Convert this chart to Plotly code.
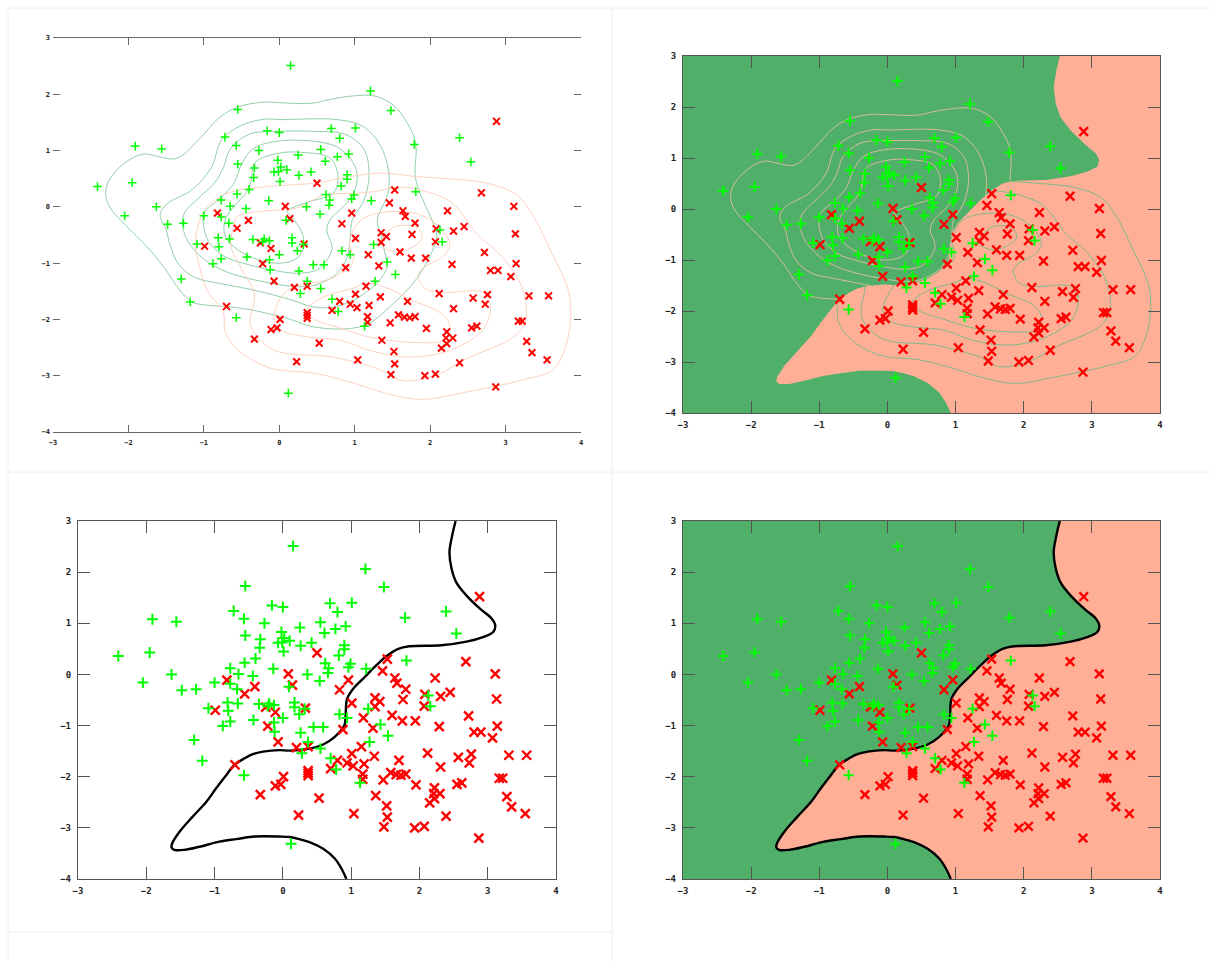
import plotly.graph_objects as go

W, H = 1213, 961
tick_vals_x = [-3, -2, -1, 0, 1, 2, 3, 4]
tick_vals_y = [-4, -3, -2, -1, 0, 1, 2, 3]

green_points = [(0.15,2.51),(1.21,2.06),(1.48,1.71),(-0.55,1.73),(1.01,1.40),(0.69,1.39),(0.80,1.22),(2.39,1.23),(1.79,1.11),(0,1.32),(-0.16,1.35),(-0.72,1.24),(-0.57,1.09),(-1.91,1.08),(-1.56,1.03),(-0.27,1.0),(0.55,1.02),(0.25,0.92),(0.92,0.94),(0.77,0.89),(0.61,0.81),(2.54,0.80),(-0.02,0.83),(-0.55,0.76),(-0.33,0.69),(0.42,0.62),(0.26,0.56),(0.90,0.57),(0.90,0.49),(0.10,0.66),(0.02,0.71),(-0.01,0.63),(-0.07,0.62),(-0.34,0.52),(0.01,0.45),(0.82,0.37),(-2.41,0.36),(-1.95,0.43),(-0.40,0.31),(-0.56,0.23),(1.81,0.27),(0.62,0.22),(0.67,0.12),(0.99,0.21),(0.96,0.14),(1.22,0.11),(0.66,0.03),(-0.77,0.12),(-0.14,0.11),(-1.63,0),(-0.65,0.01),(-0.44,-0.03),(0.36,0),(-2.05,-0.16),(-1.0,-0.16),(-0.77,-0.18),(0.54,-0.13),(0.09,-0.24),(-1.48,-0.31),(-1.27,-0.29),(-0.67,-0.29),(-0.81,-0.55),(-0.66,-0.57),(-0.35,-0.58),(-0.2,-0.57),(-0.13,-0.6),(-0.22,-0.62),(0.17,-0.55),(0.17,-0.64),(-1.09,-0.66),(-0.8,-0.71),(0.32,-0.67),(0.24,-0.78),(0,-0.85),(-0.43,-0.89),(-0.77,-0.92),(-0.13,-0.94),(-0.88,-1.01),(0.45,-1.03),(0.59,-1.03),(-0.12,-1.12),(0.26,-1.14),(-1.3,-1.28),(0.37,-1.32),(-1.18,-1.69),(0.28,-1.54),(0.55,-1.45),(-0.57,-1.97),(0.12,-3.31),(2.13,-0.41),(2.16,-0.62),(1.25,-0.67),(0.83,-0.78),(0.94,-0.85),(1.43,-0.98),(1.54,-1.2),(1.27,-1.32),(0.70,-1.64),(0.78,-1.86),(1.13,-2.12)]

red_points = [(0.50,0.42),(2.88,1.52),(1.53,0.30),(2.68,0.25),(1.46,0.07),(1.64,-0.07),(1.67,-0.17),(1.80,-0.29),(2.23,-0.07),(3.11,0.01),(0.08,0.01),(0.96,-0.11),(0.14,-0.21),(0.83,-0.30),(-0.82,-0.11),(-0.41,-0.24),(-0.56,-0.38),(-0.99,-0.70),(-0.25,-0.64),(-0.11,-0.74),(0.33,-0.66),(-0.22,-1.01),(-0.07,-1.32),(0.2,-1.43),(0.37,-1.41),(-0.7,-1.77),(0.01,-2.0),(-0.11,-2.18),(-0.03,-2.15),(-0.33,-2.35),(0.37,-1.88),(0.37,-1.93),(0.37,-1.98),(0.23,-2.75),(0.53,-2.42),(1.01,-0.56),(1.35,-0.46),(1.42,-0.53),(1.35,-0.63),(1.76,-0.49),(2.08,-0.39),(2.07,-0.62),(2.31,-0.43),(2.45,-0.35),(2.72,-0.81),(1.18,-0.85),(1.6,-0.8),(1.75,-0.91),(1.94,-0.91),(1.32,-1.05),(2.29,-1.02),(3.14,-1.01),(3.13,-0.48),(0.88,-1.08),(2.8,-1.13),(2.9,-1.13),(3.07,-1.24),(1.15,-1.41),(1.01,-1.55),(1.34,-1.6),(2.12,-1.54),(2.57,-1.62),(2.76,-1.56),(2.73,-1.73),(3.31,-1.58),(3.57,-1.58),(0.8,-1.68),(0.94,-1.73),(1.03,-1.79),(1.19,-1.75),(0.70,-1.84),(1.7,-1.68),(2.31,-1.81),(1.17,-1.95),(1.17,-2.05),(1.47,-2.06),(1.58,-1.92),(1.66,-1.96),(1.73,-1.97),(1.8,-1.95),(1.95,-2.16),(2.55,-2.15),(2.62,-2.12),(3.17,-2.03),(3.22,-2.03),(2.22,-2.22),(2.21,-2.33),(2.3,-2.33),(2.22,-2.43),(2.15,-2.51),(3.28,-2.39),(3.35,-2.59),(1.36,-2.37),(1.52,-2.57),(3.55,-2.72),(2.39,-2.77),(1.53,-2.79),(1.04,-2.72),(1.48,-2.98),(1.93,-3.0),(2.07,-2.97),(2.87,-3.2)]

boundary = [(2.53,3),(2.48,2.72),(2.44,2.39),(2.47,2.07),(2.54,1.80),(2.69,1.54),(2.89,1.28),(3.06,1.09),(3.11,0.96),(3.08,0.83),(2.93,0.73),(2.69,0.64),(2.32,0.57),(1.85,0.55),(1.69,0.50),(1.52,0.36),(1.37,0.18),(1.20,-0.05),(1.03,-0.28),(0.94,-0.48),(0.92,-0.77),(0.90,-1.0),(0.76,-1.22),(0.59,-1.37),(0.39,-1.45),(0.10,-1.49),(-0.05,-1.48),(-0.29,-1.51),(-0.44,-1.56),(-0.56,-1.64),(-0.71,-1.77),(-0.83,-1.97),(-0.98,-2.23),(-1.12,-2.49),(-1.32,-2.78),(-1.51,-3.07),(-1.62,-3.30),(-1.63,-3.38),(-1.59,-3.43),(-1.44,-3.43),(-1.22,-3.37),(-0.93,-3.27),(-0.68,-3.22),(-0.41,-3.17),(-0.05,-3.17),(0.10,-3.18),(0.24,-3.22),(0.39,-3.28),(0.59,-3.41),(0.76,-3.60),(0.86,-3.80),(0.93,-4.0)]
green_region_corners = [(-3,-4),(-3,3)]

g1 = [(-0.22,1.86),(-0.56,1.77),(-0.80,1.58),(-1.05,1.22),(-1.29,0.91),(-1.41,0.85),(-1.59,0.89),(-1.78,0.94),(-1.93,0.88),(-2.12,0.70),(-2.27,0.44),(-2.30,0.21),(-2.24,-0.02),(-2.02,-0.35),(-1.78,-0.67),(-1.53,-1.07),(-1.33,-1.46),(-1.16,-1.69),(-0.94,-1.75),(-0.69,-1.77),(-0.3,-1.85),(0.15,-2.0),(0.41,-2.12),(0.81,-2.17),(1.16,-2.09),(1.47,-1.77),(1.83,-1.26),(2.09,-0.53),(2.05,-0.32),(1.85,0.30),(1.80,0.57),(1.81,1.12),(1.70,1.48),(1.51,1.81),(1.26,1.97),(0.97,1.97),(0.68,1.91),(0.43,1.84),(0,1.85),(-0.22,1.86)]
g2 = [(-0.17,1.56),(-0.46,1.47),(-0.76,1.20),(-0.90,0.70),(-1.15,0.31),(-1.49,0.05),(-1.58,-0.15),(-1.50,-0.40),(-1.45,-0.67),(-1.33,-1.03),(-1.11,-1.26),(-0.79,-1.36),(-0.30,-1.49),(0.15,-1.65),(0.46,-1.78),(0.72,-1.78),(0.99,-1.65),(1.30,-1.35),(1.43,-1.06),(1.41,-0.88),(1.34,-0.47),(1.30,-0.23),(1.44,0.24),(1.45,0.63),(1.34,1.09),(1.12,1.42),(0.77,1.55),(0,1.55),(-0.17,1.56)]
g3 = [(-0.06,1.34),(-0.40,1.29),(-0.65,1.03),(-0.74,0.70),(-0.85,0.44),(-1.05,0.18),(-1.27,-0.15),(-1.24,-0.54),(-1.0,-0.93),(-0.69,-1.16),(-0.21,-1.33),(0.28,-1.42),(0.50,-1.38),(0.75,-1.2),(0.90,-0.9),(0.94,-0.54),(0.97,-0.22),(1.12,0.11),(1.19,0.57),(1.12,1.03),(0.87,1.29),(0.48,1.34),(-0.06,1.34)]
g4 = [(-0.06,1.16),(-0.35,1.03),(-0.50,0.76),(-0.60,0.42),(-0.76,0.18),(-1.0,-0.12),(-1.0,-0.35),(-0.94,-0.61),(-0.74,-0.87),(-0.40,-1.03),(-0.06,-1.13),(0.23,-1.18),(0.48,-1.13),(0.60,-1.0),(0.70,-0.74),(0.63,-0.41),(0.68,-0.22),(0.92,0.11),(1.03,0.44),(0.99,0.76),(0.77,1.06),(0.43,1.17),(-0.06,1.16)]
g5 = [(-0.02,0.95),(-0.32,0.79),(-0.37,0.50),(-0.41,0.31),(-0.71,-0.21),(-0.71,-0.54),(-0.41,-0.87),(0.02,-1.0),(0.27,-0.87),(0.32,-0.54),(0.17,-0.18),(0.10,-0.08),(0.37,0.08),(0.71,0.24),(0.78,0.50),(0.68,0.86),(0.28,0.97),(-0.02,0.95)]
green_contours = [g1, g2, g3, g4, g5]

r1 = [(1.79,0.54),(2.13,0.51),(2.75,0.42),(3.15,0.21),(3.37,-0.17),(3.59,-0.76),(3.85,-1.59),(3.81,-2.42),(3.63,-2.89),(3.24,-3.07),(2.44,-3.30),(1.87,-3.42),(1.38,-3.30),(1.03,-3.15),(0.48,-2.96),(-0.13,-2.86),(-0.55,-2.54),(-0.72,-2.21),(-0.74,-1.88),(-0.95,-1.5),(-1.05,-1.1),(-1.11,-0.70),(-1.08,-0.35),(-0.97,-0.02),(-0.69,0.24),(-0.16,0.36),(0.15,0.39),(0.53,0.43),(0.81,0.51),(1.36,0.60),(1.79,0.54)]
r2 = [(1.84,0.31),(2.28,0.08),(2.62,-0.48),(2.92,-0.84),(3.16,-1.26),(3.26,-1.65),(3.26,-2.05),(3.11,-2.31),(2.48,-2.70),(2.08,-2.99),(1.64,-3.09),(1.35,-2.90),(0.71,-2.67),(-0.08,-2.54),(-0.38,-2.11),(-0.33,-1.56),(-0.50,-1.1),(-0.64,-0.70),(-0.60,-0.32),(-0.56,-0.17),(-0.25,-0.08),(0.24,-0.02),(0.59,0.21),(0.99,0.24),(1.25,0.27),(1.60,0.35),(1.84,0.31)]
r3 = [(1.84,-1.23),(1.89,-1.10),(2.18,-0.87),(2.26,-0.64),(1.99,-0.22),(1.59,-0.08),(1.10,-0.22),(0.93,-0.61),(0.98,-0.97),(0.71,-1.26),(0.10,-1.49),(-0.07,-1.95),(0.02,-2.18),(0.37,-2.31),(0.81,-2.37),(1.25,-2.57),(1.74,-2.67),(2.28,-2.54),(2.70,-2.18),(2.80,-1.78),(2.70,-1.52),(2.18,-1.52),(1.94,-1.46),(1.84,-1.23)]
r4 = [(0.37,-1.82),(0.61,-1.59),(0.97,-1.45),(1.16,-1.36),(1.46,-1.46),(1.74,-1.65),(2.13,-1.88),(2.26,-2.11),(2.18,-2.37),(1.84,-2.41),(1.25,-2.33),(0.8,-2.15),(0.45,-1.98),(0.37,-1.82)]
r5 = [(1.35,-0.61),(1.54,-0.35),(1.84,-0.38),(1.89,-0.58),(1.59,-0.80),(1.37,-0.71),(1.35,-0.61)]
red_contours = [r1, r2, r3, r4, r5]

GREEN_BG = "#50b06a"
SALMON_BG = "#ffaf96"
AXIS = "#555555"
region = boundary + green_region_corners


def inside(p, poly):
    x, y = p
    c = False
    for i in range(len(poly)):
        x1, y1 = poly[i]
        x2, y2 = poly[(i + 1) % len(poly)]
        if (y1 > y) != (y2 > y) and x < x1 + (y - y1) * (x2 - x1) / (y2 - y1):
            c = not c
    return c


def clip(curves, keep_inside):
    """Keep the parts of the read contours on one side of the region edge."""
    xs, ys = [], []
    for c in curves:
        prev = None
        for p in c:
            now = inside(p, region) == keep_inside
            if prev is not None and now != prev[1]:
                a, b = prev[0], p
                for _ in range(18):
                    m = ((a[0] + b[0]) / 2, (a[1] + b[1]) / 2)
                    if (inside(m, region) == keep_inside) == prev[1]:
                        a = m
                    else:
                        b = m
                xs.append(a[0]); ys.append(a[1])
                if prev[1]:
                    xs.append(None); ys.append(None)
            if now:
                xs.append(p[0]); ys.append(p[1])
            prev = (p, now)
        xs.append(None); ys.append(None)
    return xs, ys


def joined(curves):
    xs, ys = [], []
    for c in curves:
        xs += [p[0] for p in c] + [None]
        ys += [p[1] for p in c] + [None]
    return xs, ys


fig = go.Figure()
panels = [
    dict(x="x", y="y", box=(53, 581, 38, 432), tick=7, font=7, plus=6.2, cross=6.8, lw=(1.5, 2), sh=4, lsh=2, al=1, ac="#666666"),
    dict(x="x2", y="y2", box=(683, 1160, 56, 413), tick=12, font=9, plus=7.4, cross=8.6, lw=(2, 2.4), sh=3, lsh=4, al=1.3, ac=AXIS),
    dict(x="x3", y="y3", box=(78, 556, 521, 879), tick=12, font=9, plus=7.8, cross=9, lw=(2, 2.4), sh=3, lsh=4, al=1.3, ac=AXIS),
    dict(x="x4", y="y4", box=(683, 1160, 521, 879), tick=12, font=9, plus=7.4, cross=8.6, lw=(2, 2.4), sh=3, lsh=4, al=1.3, ac=AXIS),
]


def lines(xs, ys, panel, color, width, shape="spline"):
    fig.add_trace(go.Scatter(x=xs, y=ys, xaxis=panel["x"], yaxis=panel["y"], mode="lines",
                             line=dict(color=color, width=width, shape=shape, smoothing=1),
                             hoverinfo="skip", showlegend=False))


def fill_region(panel):
    fig.add_trace(go.Scatter(x=[p[0] for p in region] + [region[0][0]], y=[p[1] for p in region] + [region[0][1]],
                             xaxis=panel["x"], yaxis=panel["y"], mode="lines", fill="toself",
                             fillcolor=GREEN_BG, line=dict(width=0, color=GREEN_BG),
                             hoverinfo="skip", showlegend=False))


def markers(panel):
    fig.add_trace(go.Scatter(x=[p[0] for p in red_points], y=[p[1] for p in red_points],
                             xaxis=panel["x"], yaxis=panel["y"], mode="markers",
                             marker=dict(symbol="x-thin-open", size=panel["cross"], color="#ff0000",
                                         line=dict(color="#ff0000", width=panel["lw"][1])),
                             showlegend=False))
    fig.add_trace(go.Scatter(x=[p[0] for p in green_points], y=[p[1] for p in green_points],
                             xaxis=panel["x"], yaxis=panel["y"], mode="markers",
                             marker=dict(symbol="cross-thin-open", size=panel["plus"], color="#00ff00",
                                         line=dict(color="#00ff00", width=panel["lw"][0])),
                             showlegend=False))


# top left: both density families
gx, gy = joined(green_contours)
rx, ry = joined(red_contours)
lines(gx, gy, panels[0], "#84c99c", 0.9)
lines(rx, ry, panels[0], "#ffcbb9", 0.9)
markers(panels[0])

# top right: regions, each family only on its own side
fill_region(panels[1])
gx, gy = clip(green_contours, True)
rx, ry = clip(red_contours, False)
lines(gx, gy, panels[1], "#d6bd9a", 1)
lines(rx, ry, panels[1], "#7fb98a", 1)
markers(panels[1])

# bottom left: boundary only
bx, by = joined([boundary])
lines(bx, by, panels[2], "#000000", 2.4)
markers(panels[2])

# bottom right: regions and boundary
fill_region(panels[3])
lines(bx, by, panels[3], "#000000", 2.4)
markers(panels[3])

layout = dict(width=W, height=H, margin=dict(l=0, r=0, t=0, b=0, autoexpand=False), paper_bgcolor="white",
              plot_bgcolor="white", showlegend=False, autosize=False)
shapes = []
for i, p in enumerate(panels):
    s = "" if i == 0 else str(i + 1)
    x0, x1, y0, y1 = p["box"]
    font = dict(family="DejaVu Sans Mono", size=p["font"], color="#222222", weight="bold")
    layout["xaxis" + s] = dict(domain=[x0 / W, x1 / W], range=[-3, 4], anchor="y" + s, tickvals=tick_vals_x,
                               ticks="inside", ticklen=p["tick"], tickwidth=1, tickcolor=p["ac"], showgrid=False,
                               zeroline=False, showline=True, linecolor=p["ac"], linewidth=p["al"], mirror="ticks",
                               tickfont=font, ticklabelstandoff=p["sh"])
    layout["yaxis" + s] = dict(domain=[1 - y1 / H, 1 - y0 / H], range=[-4, 3], anchor="x" + s, tickvals=tick_vals_y,
                               ticks="inside", ticklen=p["tick"], tickwidth=1, tickcolor=p["ac"], showgrid=False,
                               zeroline=False, showline=i != 0, linecolor=p["ac"], linewidth=p["al"], mirror="ticks",
                               tickfont=font, ticklabelstandoff=p["lsh"])
    if i in (1, 3):
        shapes.append(dict(type="rect", xref="x%s domain" % s, yref="y%s domain" % s, x0=0, x1=1, y0=0, y1=1,
                           fillcolor=SALMON_BG, line=dict(width=0), layer="below"))

frame = [(8 / W, 8 / W, 0, 1 - 8 / H), (612 / W, 612 / W, 0, 1 - 8 / H),
         (8 / W, 1, 1 - 8 / H, 1 - 8 / H), (8 / W, 1, 1 - 472 / H, 1 - 472 / H),
         (8 / W, 612 / W, 1 - 932 / H, 1 - 932 / H)]
for a, b, c, d in frame:
    shapes.append(dict(type="line", xref="paper", yref="paper", x0=a, x1=b, y0=c, y1=d,
                       line=dict(color="#f0f0f0", width=1), layer="below"))
layout["shapes"] = shapes
fig.update_layout(**layout)
fig.write_html("out.html", config={"displayModeBar": False},
               post_script="document.body.style.margin='0';document.body.style.overflow='hidden';")
